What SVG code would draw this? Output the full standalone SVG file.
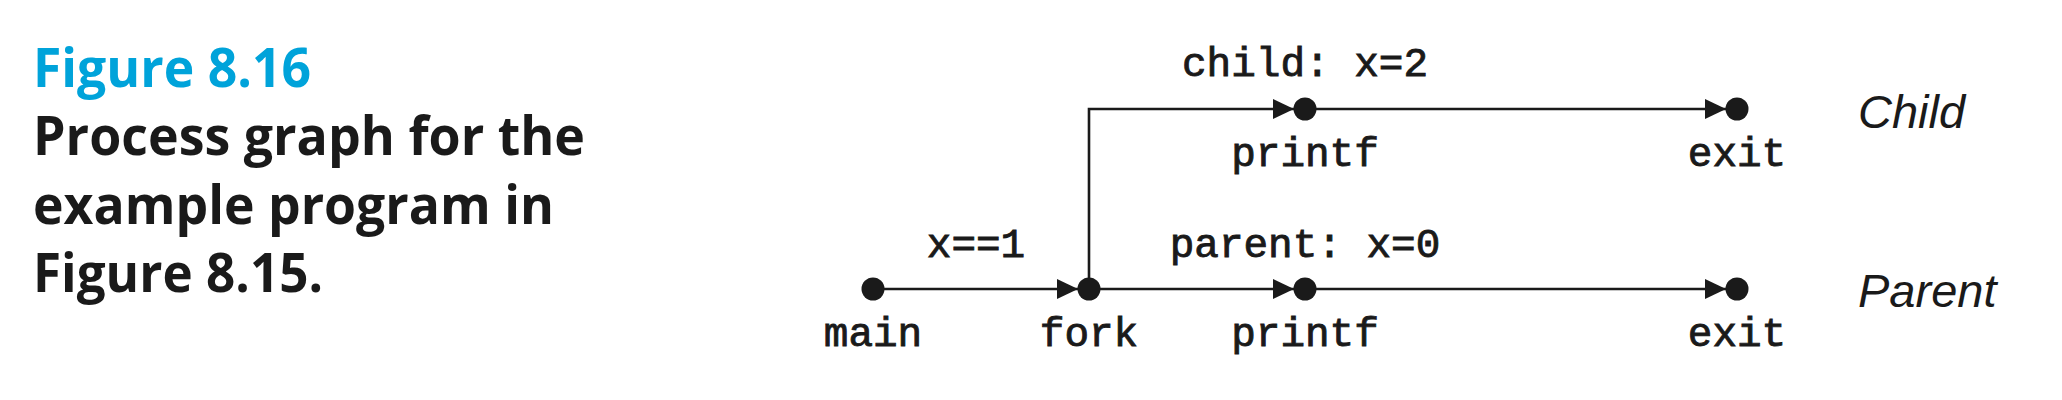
<svg xmlns="http://www.w3.org/2000/svg" width="2062" height="400" viewBox="0 0 2062 400">
  <style>
    .cap { font-family: "Open Sans", "Noto Sans", "Liberation Sans", sans-serif; font-weight: 700; font-size: 54px; fill: #1a1a1a; }
    .fig { fill: #00a3da; }
    .mono { font-family: "Liberation Mono", "DejaVu Sans Mono", monospace; font-size: 41px; fill: #1a1a1a; stroke: #1a1a1a; stroke-width: 0.9; text-anchor: middle; }
    .role { font-family: "Liberation Sans", Arial, sans-serif; font-style: italic; font-size: 47px; fill: #1a1a1a; }
    .edge { fill: none; stroke: #1a1a1a; stroke-width: 2.6; }
    .dot { fill: #1a1a1a; }
  </style>
  <defs>
    <marker id="arrow" markerUnits="userSpaceOnUse" markerWidth="22" markerHeight="22" refX="21" refY="10" orient="auto">
      <path d="M0,0 L21,10 L0,20 Z" fill="#1a1a1a"/>
    </marker>
  </defs>
  <rect width="2062" height="400" fill="#ffffff"/>

  <g id="caption">
    <text class="cap fig" x="33" y="87" textLength="278" lengthAdjust="spacingAndGlyphs">Figure 8.16</text>
    <text class="cap" x="33" y="155" textLength="552" lengthAdjust="spacingAndGlyphs">Process graph for the</text>
    <text class="cap" x="33" y="224" textLength="521" lengthAdjust="spacingAndGlyphs">example program in</text>
    <text class="cap" x="33" y="292" textLength="290" lengthAdjust="spacingAndGlyphs">Figure 8.15.</text>
  </g>

  <g id="connectors">
    <path class="edge" d="M873,289 H1078" marker-end="url(#arrow)"/>
    <path class="edge" d="M1089,289 H1294" marker-end="url(#arrow)"/>
    <path class="edge" d="M1305,289 H1726" marker-end="url(#arrow)"/>
    <path class="edge" d="M1089,289 V109 H1294" marker-end="url(#arrow)"/>
    <path class="edge" d="M1305,109 H1726" marker-end="url(#arrow)"/>
    <text class="mono" x="976" y="257">x==1</text>
    <text class="mono" x="1305" y="257">parent: x=0</text>
    <text class="mono" x="1305" y="76">child: x=2</text>
  </g>

  <g id="node-main">
    <circle class="dot" cx="873" cy="289" r="11.5"/>
    <text class="mono" x="873" y="346">main</text>
  </g>
  <g id="node-fork">
    <circle class="dot" cx="1089" cy="289" r="11.5"/>
    <text class="mono" x="1089" y="346">fork</text>
  </g>
  <g id="node-printf-parent">
    <circle class="dot" cx="1305" cy="289" r="11.5"/>
    <text class="mono" x="1305" y="346">printf</text>
  </g>
  <g id="node-exit-parent">
    <circle class="dot" cx="1737" cy="289" r="11.5"/>
    <text class="mono" x="1737" y="346">exit</text>
  </g>
  <g id="node-printf-child">
    <circle class="dot" cx="1305" cy="109" r="11.5"/>
    <text class="mono" x="1305" y="166">printf</text>
  </g>
  <g id="node-exit-child">
    <circle class="dot" cx="1737" cy="109" r="11.5"/>
    <text class="mono" x="1737" y="166">exit</text>
  </g>

  <g id="role-labels">
    <text class="role" x="1858" y="128">Child</text>
    <text class="role" x="1858" y="307">Parent</text>
  </g>
</svg>
